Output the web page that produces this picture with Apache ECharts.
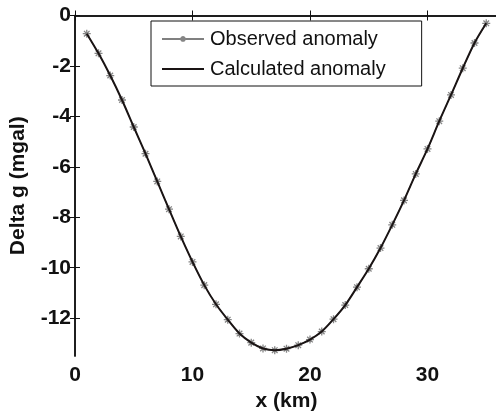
<!DOCTYPE html>
<html>
<head>
<meta charset="utf-8">
<script src="https://cdn.jsdelivr.net/npm/echarts@6/dist/echarts.min.js"></script>
<style>
  html, body { margin: 0; padding: 0; background: #fff; }
  #chart { width: 496px; height: 412px; }
</style>
</head>
<body>
<div id="chart"></div>
<script>
// Profile positions (km)
const xKm = [1, 2, 3, 4, 5, 6, 7, 8, 9, 10, 11, 12, 13, 14, 15, 16, 17, 18,
             19, 20, 21, 22, 23, 24, 25, 26, 27, 28, 29, 30, 31, 32, 33, 34, 35];
// Observed gravity anomaly (mgal)
const observed = [-0.72, -1.50, -2.38, -3.35, -4.42, -5.48, -6.58, -7.68, -8.76, -9.77,
                  -10.69, -11.45, -12.06, -12.61, -12.97, -13.20, -13.27, -13.21, -13.07,
                  -12.85, -12.53, -12.04, -11.48, -10.77, -10.04, -9.22, -8.30, -7.33,
                  -6.28, -5.29, -4.19, -3.15, -2.09, -1.09, -0.31];
// Model (calculated) anomaly (mgal)
const calculated = [-0.72, -1.50, -2.38, -3.35, -4.42, -5.48, -6.58, -7.68, -8.76, -9.77,
                    -10.69, -11.45, -12.06, -12.61, -12.97, -13.20, -13.27, -13.21, -13.07,
                    -12.85, -12.53, -12.04, -11.48, -10.77, -10.04, -9.22, -8.30, -7.33,
                    -6.28, -5.29, -4.19, -3.15, -2.09, -1.09, -0.31];
// Axis tick values
const xTicks = [0, 10, 20, 30];
const yTicks = [0, -2, -4, -6, -8, -10, -12];
const seriesNames = ['Observed anomaly', 'Calculated anomaly'];

const FONT = 'Liberation Sans, Arial, sans-serif';
const asterisk = 'path://M5 0L5 10M0 5L10 5M1.5 1.5L8.5 8.5M8.5 1.5L1.5 8.5';
const INK = '#111';

const axisLine = { show: true, lineStyle: { color: INK, width: 1.5 } };
const tickStyle = { color: INK, width: 1 };
const boldText = { fontFamily: FONT, fontSize: 21, fontWeight: 'bold', color: INK };

function xAxisDef(pos, withText) {
  return {
    type: 'value', min: 0, max: 36, position: pos,
    axisLine: axisLine,
    splitLine: { show: false },
    axisTick: { show: true, inside: true, length: 5, lineStyle: tickStyle, customValues: xTicks },
    axisLabel: withText
      ? Object.assign({ margin: 9, customValues: xTicks }, boldText)
      : { show: false },
    name: withText ? 'x (km)' : '',
    nameLocation: 'middle', nameGap: 32,
    nameTextStyle: boldText
  };
}
function yAxisDef(pos, withText) {
  return {
    type: 'value', min: -13.5, max: 0, position: pos,
    axisLine: axisLine,
    splitLine: { show: false },
    axisTick: { show: true, inside: true, length: 5, lineStyle: tickStyle, customValues: yTicks },
    axisLabel: withText
      ? Object.assign({ margin: 4, customValues: yTicks }, boldText)
      : { show: false },
    name: withText ? 'Delta g (mgal)' : '',
    nameLocation: 'middle', nameGap: 46, nameRotate: 90,
    nameTextStyle: boldText
  };
}

const chart = echarts.init(document.getElementById('chart'), null, { renderer: 'canvas' });
chart.setOption({
  backgroundColor: '#fff',
  animation: false,
  grid: { left: 75, right: -2, top: 15.5, bottom: 56, containLabel: false, outerBoundsMode: 'none' },
  legend: {
    orient: 'vertical',
    left: 151, top: 21,
    padding: [8, 36, 7, 10],
    itemGap: 10,
    itemWidth: 42,
    itemHeight: 7,
    backgroundColor: '#fff',
    borderColor: INK,
    borderWidth: 1,
    borderRadius: 0,
    textStyle: { fontFamily: FONT, fontSize: 20, color: INK, padding: [0, 0, 0, 1] },
    data: [
      { name: seriesNames[0] },
      { name: seriesNames[1], itemStyle: { color: 'rgba(0,0,0,0)', borderWidth: 0 } }
    ]
  },
  xAxis: [xAxisDef('bottom', true), xAxisDef('top', false)],
  yAxis: [yAxisDef('left', true), yAxisDef('right', false)],
  series: [
    {
      name: seriesNames[0],
      type: 'line',
      data: xKm.map((x, i) => [x, observed[i]]),
      symbol: asterisk,
      symbolSize: 8,
      showSymbol: true,
      lineStyle: { color: '#808080', width: 1 },
      itemStyle: { color: 'rgba(0,0,0,0)', borderColor: '#858585', borderWidth: 1.3 },
      z: 2
    },
    {
      name: seriesNames[1],
      type: 'line',
      data: xKm.map((x, i) => [x, calculated[i]]),
      symbol: 'none',
      smooth: 0.3,
      lineStyle: { color: '#1a1414', width: 2 },
      itemStyle: { color: '#1a1414' },
      z: 3
    }
  ]
});
</script>
</body>
</html>
